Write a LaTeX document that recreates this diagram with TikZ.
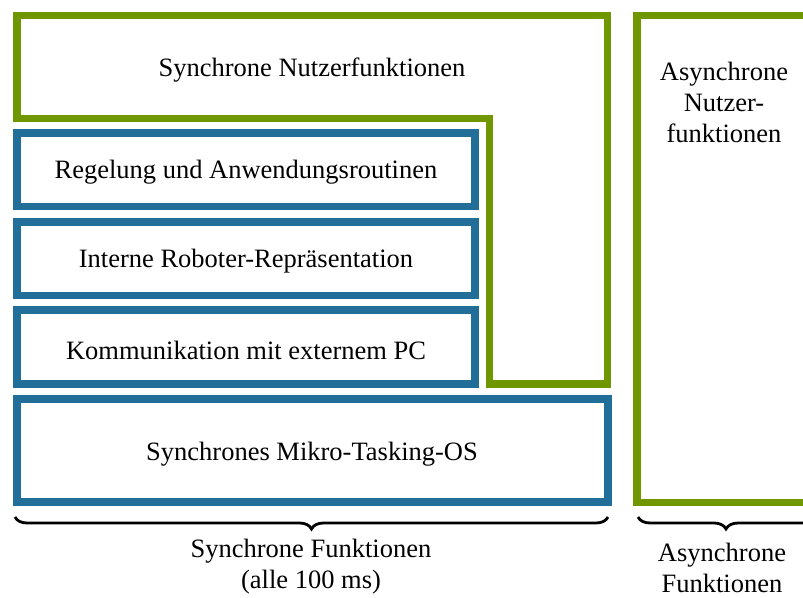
\documentclass[tikz,border=0pt]{standalone}
\usepackage{fontspec}
\setmainfont{Liberation Serif}
\usetikzlibrary{decorations.pathreplacing}
\definecolor{funcgreen}{RGB}{112,150,0}
\definecolor{layerblue}{RGB}{33,111,153}
\begin{document}
\begin{tikzpicture}[x=1pt,y=-1pt,
  greenframe/.style={draw=funcgreen,line width=7.5pt,line join=miter},
  bluebox/.style={draw=layerblue,line width=7.5pt,line join=miter},
  lbl/.style={font=\fontsize{26.5}{31}\selectfont,align=center,inner sep=0pt},
  bracestyle/.style={decorate,decoration={brace,mirror,amplitude=12pt},line width=2.8pt}]
\useasboundingbox (0,0) rectangle (803,597);
\clip (0,0) rectangle (803,597);
% synchronous user functions: L-shaped frame
\draw[greenframe] (17,15.5) -- (607.5,15.5) -- (607.5,384) -- (489.5,384)
  -- (489.5,118.5) -- (17,118.5) -- cycle;
\node[lbl] (snf) at (312,70) {Synchrone Nutzerfunktionen};
% layered blocks
\draw[bluebox] (17,133) rectangle (475,206.5);
\node[lbl] (reg) at (246,172) {Regelung und Anwendungsroutinen};
\draw[bluebox] (17,222) rectangle (475,295.5);
\node[lbl] (irr) at (246,261) {Interne Roboter-Repräsentation};
\draw[bluebox] (17,310) rectangle (475,384);
\node[lbl] (kom) at (246,350) {Kommunikation mit externem PC};
\draw[bluebox] (17,399) rectangle (608,502);
\node[lbl] (os) at (312,454) {Synchrones Mikro-Tasking-OS};
% asynchronous user functions
\draw[greenframe] (637,15.5) rectangle (815,502.5);
\node[lbl] (anf) at (724,102) {Asynchrone\\Nutzer-\\funktionen};
% braces
\coordinate (b1l) at (15,517);
\coordinate (b1r) at (608,517);
\coordinate (b2l) at (638,517);
\coordinate (b2r) at (814,517);
\draw[bracestyle] (b1l) -- (b1r);
\draw[bracestyle] (b2l) -- (b2r);
\node[lbl] (sf) at (311,567) {Synchrone Funktionen\\(alle 100 ms)};
\node[lbl] (af) at (722,568) {Asynchrone\\Funktionen};
\end{tikzpicture}
\end{document}
